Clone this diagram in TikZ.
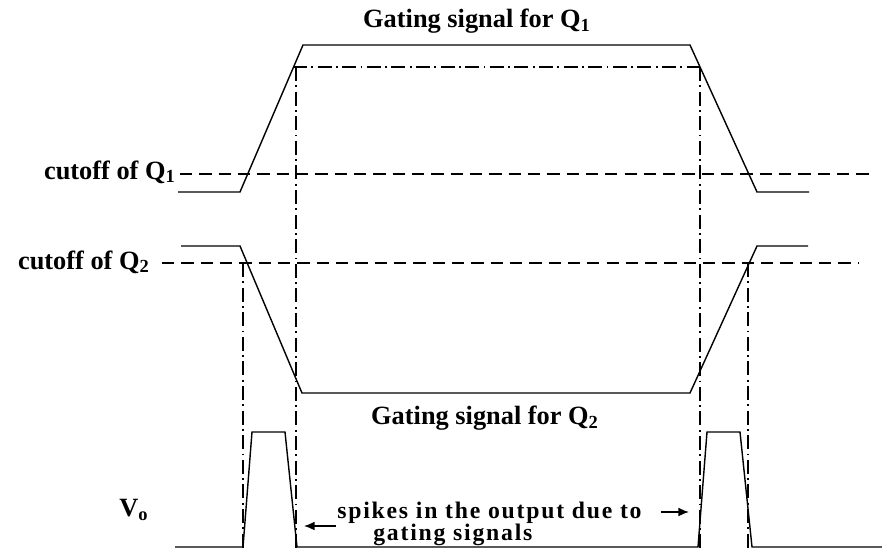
\documentclass[tikz,border=0pt]{standalone}
\usepackage{fontspec}
\setmainfont{Liberation Serif}
\usetikzlibrary{arrows.meta}
\tikzset{
  wave/.style={line width=0.8pt},
  cutline/.style={line width=0.7pt, dash pattern=on 7pt off 4pt},
  guide/.style={line width=0.7pt, dash pattern=on 8pt off 2.5pt on 1pt off 2.5pt},
  lbl/.style={font=\fontsize{15}{17}\selectfont\bfseries, inner sep=0pt},
  note/.style={font=\fontsize{13.5}{9}\selectfont\bfseries\addfontfeature{LetterSpace=7.5}, inner sep=0pt, align=left}
}
\begin{document}
\begin{tikzpicture}[x=0.02cm,y=-0.02cm]
\useasboundingbox (0,0) rectangle (882,548);
\coordinate (AL) at (178,192);
\coordinate (AB) at (240,192);
\coordinate (AT) at (303,45);
\coordinate (AU) at (690,45);
\coordinate (AD) at (757,192);
\coordinate (AR) at (809,192);
\coordinate (BL) at (181,246);
\coordinate (BT) at (240,246);
\coordinate (BB) at (302,393);
\coordinate (BU) at (690,393);
\coordinate (BD) at (757,246);
\coordinate (BR) at (808,246);

\draw[wave] (AL) -- (AB) -- (AT) -- (AU) -- (AD) -- (AR);
\draw[wave] (BL) -- (BT) -- (BB) -- (BU) -- (BD) -- (BR);

\draw[cutline] (180,174) -- (872,174);
\draw[cutline] (162,263) -- (858,263);

\draw[guide] (293,67) -- (700,67);
\draw[guide] (296,67) -- (296,548);
\draw[guide] (700,67) -- (700,548);
\draw[guide] (243,263) -- (243,548);
\draw[guide] (748,263) -- (748,548);

\draw[wave] (175,547) -- (243,547) -- (252,432) -- (285,432) -- (297,547) -- (698,547) -- (707,432) -- (740,432) -- (752,547) -- (882,547);

\coordinate (sl) at (336,526);
\coordinate (sle) at (304,526);
\coordinate (sr) at (661,512);
\coordinate (sre) at (689,512);
\draw[line width=0.8pt,-{Latex[length=6pt,width=5pt]}] (sl) -- (sle);
\draw[line width=0.8pt,-{Latex[length=6pt,width=5pt]}] (sr) -- (sre);

\node[lbl] (g1) at (477,21) {Gating signal for Q\textsubscript{1}};
\node[lbl] (g2) at (485,418) {Gating signal for Q\textsubscript{2}};
\node[lbl,anchor=east] (c1) at (176,172) {cutoff of Q\textsubscript{1}};
\node[lbl,anchor=east] (c2) at (150,262) {cutoff of Q\textsubscript{2}};
\node[lbl] (vo) at (134,510) {V\textsubscript{o}};
\node[note,anchor=north west] (sp) at (337,502) {spikes in the output due to\\[-1pt]\hspace{0.72cm}gating signals};
\end{tikzpicture}
\end{document}
